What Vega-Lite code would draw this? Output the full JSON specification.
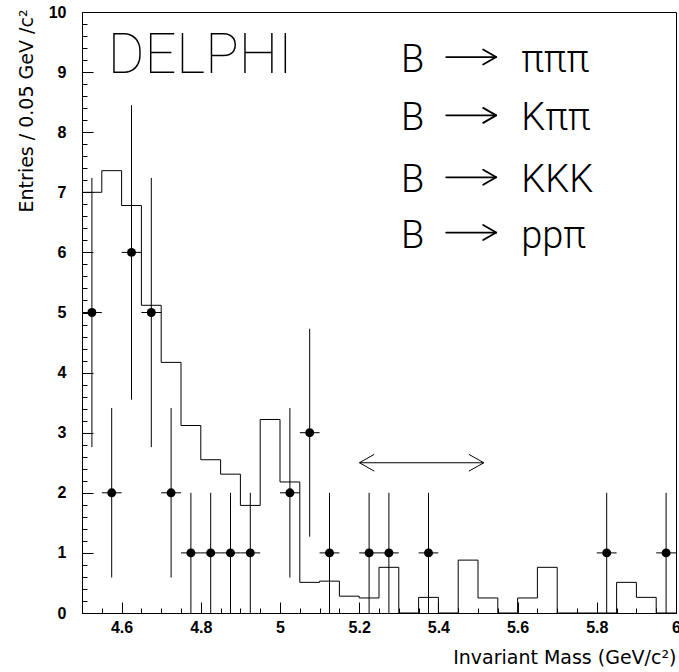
{
  "$schema": "https://vega.github.io/schema/vega-lite/v6.json",
  "width": 594,
  "height": 601,
  "autosize": {"type": "none"},
  "padding": {"left": 82, "top": 12, "right": 3, "bottom": 59},
  "background": "white",
  "config": {
    "view": {"stroke": "black", "strokeWidth": 1},
    "axis": {"grid": false, "domain": false, "tickColor": "black", "labelColor": "black", "titleColor": "black", "tickWidth": 1}
  },
  "datasets": {
    "hist": [
      {"edge": 4.50, "entries": 7.00},
      {"edge": 4.55, "entries": 7.36},
      {"edge": 4.60, "entries": 6.78},
      {"edge": 4.65, "entries": 5.12},
      {"edge": 4.70, "entries": 4.17},
      {"edge": 4.75, "entries": 3.12},
      {"edge": 4.80, "entries": 2.55},
      {"edge": 4.85, "entries": 2.31},
      {"edge": 4.90, "entries": 1.79},
      {"edge": 4.95, "entries": 3.22},
      {"edge": 5.00, "entries": 2.18},
      {"edge": 5.05, "entries": 0.51},
      {"edge": 5.10, "entries": 0.53},
      {"edge": 5.15, "entries": 0.28},
      {"edge": 5.20, "entries": 0.25},
      {"edge": 5.25, "entries": 0.76},
      {"edge": 5.30, "entries": 0},
      {"edge": 5.35, "entries": 0.26},
      {"edge": 5.40, "entries": 0},
      {"edge": 5.45, "entries": 0.88},
      {"edge": 5.50, "entries": 0.25},
      {"edge": 5.55, "entries": 0},
      {"edge": 5.60, "entries": 0.25},
      {"edge": 5.65, "entries": 0.76},
      {"edge": 5.70, "entries": 0},
      {"edge": 5.75, "entries": 0},
      {"edge": 5.80, "entries": 0},
      {"edge": 5.85, "entries": 0.51},
      {"edge": 5.90, "entries": 0.26},
      {"edge": 5.95, "entries": 0},
      {"edge": 6.00, "entries": 0}
    ],
    "points": [
      {"mass": 4.525, "lowEdge": 4.50, "highEdge": 4.55, "n": 5, "lo": 2.76, "hi": 7.24},
      {"mass": 4.575, "lowEdge": 4.55, "highEdge": 4.60, "n": 2, "lo": 0.59, "hi": 3.41},
      {"mass": 4.625, "lowEdge": 4.60, "highEdge": 4.65, "n": 6, "lo": 3.55, "hi": 8.45},
      {"mass": 4.675, "lowEdge": 4.65, "highEdge": 4.70, "n": 5, "lo": 2.76, "hi": 7.24},
      {"mass": 4.725, "lowEdge": 4.70, "highEdge": 4.75, "n": 2, "lo": 0.59, "hi": 3.41},
      {"mass": 4.775, "lowEdge": 4.75, "highEdge": 4.80, "n": 1, "lo": 0, "hi": 2},
      {"mass": 4.825, "lowEdge": 4.80, "highEdge": 4.85, "n": 1, "lo": 0, "hi": 2},
      {"mass": 4.875, "lowEdge": 4.85, "highEdge": 4.90, "n": 1, "lo": 0, "hi": 2},
      {"mass": 4.925, "lowEdge": 4.90, "highEdge": 4.95, "n": 1, "lo": 0, "hi": 2},
      {"mass": 5.025, "lowEdge": 5.00, "highEdge": 5.05, "n": 2, "lo": 0.59, "hi": 3.41},
      {"mass": 5.075, "lowEdge": 5.05, "highEdge": 5.10, "n": 3, "lo": 1.27, "hi": 4.73},
      {"mass": 5.125, "lowEdge": 5.10, "highEdge": 5.15, "n": 1, "lo": 0, "hi": 2},
      {"mass": 5.225, "lowEdge": 5.20, "highEdge": 5.25, "n": 1, "lo": 0, "hi": 2},
      {"mass": 5.275, "lowEdge": 5.25, "highEdge": 5.30, "n": 1, "lo": 0, "hi": 2},
      {"mass": 5.375, "lowEdge": 5.35, "highEdge": 5.40, "n": 1, "lo": 0, "hi": 2},
      {"mass": 5.825, "lowEdge": 5.80, "highEdge": 5.85, "n": 1, "lo": 0, "hi": 2},
      {"mass": 5.975, "lowEdge": 5.95, "highEdge": 6.00, "n": 1, "lo": 0, "hi": 2}
    ],
    "arrow": [
      {"part": "shaft", "k": 1, "mass": 5.2006, "entries": 2.5},
      {"part": "shaft", "k": 2, "mass": 5.5147, "entries": 2.5},
      {"part": "left", "k": 1, "mass": 5.238, "entries": 2.64},
      {"part": "left", "k": 2, "mass": 5.2006, "entries": 2.5},
      {"part": "left", "k": 3, "mass": 5.238, "entries": 2.36},
      {"part": "right", "k": 1, "mass": 5.4768, "entries": 2.64},
      {"part": "right", "k": 2, "mass": 5.5147, "entries": 2.5},
      {"part": "right", "k": 3, "mass": 5.4768, "entries": 2.36}
    ],
    "decayArrows": [
      {"part": "a1s", "k": 1, "mass": 5.4197, "entries": 9.25},
      {"part": "a1s", "k": 2, "mass": 5.546, "entries": 9.25},
      {"part": "a1h", "k": 1, "mass": 5.513, "entries": 9.375},
      {"part": "a1h", "k": 2, "mass": 5.546, "entries": 9.25},
      {"part": "a1h", "k": 3, "mass": 5.513, "entries": 9.125},
      {"part": "a2s", "k": 1, "mass": 5.4197, "entries": 8.28},
      {"part": "a2s", "k": 2, "mass": 5.546, "entries": 8.28},
      {"part": "a2h", "k": 1, "mass": 5.513, "entries": 8.405},
      {"part": "a2h", "k": 2, "mass": 5.546, "entries": 8.28},
      {"part": "a2h", "k": 3, "mass": 5.513, "entries": 8.155},
      {"part": "a3s", "k": 1, "mass": 5.4197, "entries": 7.25},
      {"part": "a3s", "k": 2, "mass": 5.546, "entries": 7.25},
      {"part": "a3h", "k": 1, "mass": 5.513, "entries": 7.375},
      {"part": "a3h", "k": 2, "mass": 5.546, "entries": 7.25},
      {"part": "a3h", "k": 3, "mass": 5.513, "entries": 7.125},
      {"part": "a4s", "k": 1, "mass": 5.4197, "entries": 6.33},
      {"part": "a4s", "k": 2, "mass": 5.546, "entries": 6.33},
      {"part": "a4h", "k": 1, "mass": 5.513, "entries": 6.455},
      {"part": "a4h", "k": 2, "mass": 5.546, "entries": 6.33},
      {"part": "a4h", "k": 3, "mass": 5.513, "entries": 6.205}
    ],
    "delphi": [
      {"label": "DELPHI", "mass": 4.565, "entries": 8.98}
    ],
    "decays": [
      {"product": "πππ", "entries": 9.0},
      {"product": "Kππ", "entries": 8.03},
      {"product": "KKK", "entries": 7.0},
      {"product": "ppπ", "entries": 6.08}
    ]
  },
  "resolve": {"axis": {"x": "independent", "y": "independent"}},
  "layer": [
    {
      "data": {"name": "hist"},
      "mark": {"type": "line", "interpolate": "step-after", "color": "black", "strokeWidth": 1},
      "encoding": {
        "x": {
          "field": "edge", "type": "quantitative",
          "scale": {"domain": [4.5, 6], "nice": false, "zero": false},
          "axis": {
            "orient": "bottom",
            "values": [4.6, 4.8, 5.0, 5.2, 5.4, 5.6, 5.8, 6.0],
            "format": ".1~f",
            "tickSize": -11,
            "labelPadding": 17,
            "labelFont": "Liberation Sans",
            "labelFontSize": 16,
            "labelFontWeight": "bold",
            "labelFlush": false,
            "title": "Invariant Mass (GeV/c²)",
            "titleFont": "DejaVu Sans",
            "titleFontSize": 19,
            "titleFontWeight": "normal",
            "titleX": 594,
            "titleY": 50,
            "titleAlign": "right",
            "titleBaseline": "alphabetic"
          }
        },
        "y": {
          "field": "entries", "type": "quantitative",
          "scale": {"domain": [0, 10], "nice": false, "zero": false},
          "axis": {
            "orient": "left",
            "values": [0, 1, 2, 3, 4, 5, 6, 7, 8, 9, 10],
            "format": "d",
            "tickSize": -11,
            "labelPadding": 27,
            "labelFont": "Liberation Sans",
            "labelFontSize": 16,
            "labelFontWeight": "bold",
            "labelFlush": false,
            "title": "Entries / 0.05 GeV /c²",
            "titleFont": "DejaVu Sans",
            "titleFontSize": 19,
            "titleFontWeight": "normal",
            "titleAngle": 270,
            "titleX": -50,
            "titleY": -3,
            "titleAlign": "right",
            "titleBaseline": "alphabetic"
          }
        }
      }
    },
    {
      "data": {"name": "points"},
      "mark": {"type": "rule", "color": "black", "strokeWidth": 1},
      "encoding": {
        "x": {
          "field": "mass", "type": "quantitative",
          "scale": {"domain": [4.5, 6], "nice": false, "zero": false},
          "axis": {
            "orient": "bottom",
            "values": [4.5, 4.55, 4.6, 4.65, 4.7, 4.75, 4.8, 4.85, 4.9, 4.95, 5.0, 5.05, 5.1, 5.15, 5.2, 5.25, 5.3, 5.35, 5.4, 5.45, 5.5, 5.55, 5.6, 5.65, 5.7, 5.75, 5.8, 5.85, 5.9, 5.95, 6.0],
            "tickSize": -5,
            "labels": false,
            "title": null
          }
        },
        "y": {
          "field": "lo", "type": "quantitative",
          "scale": {"domain": [0, 10], "nice": false, "zero": false},
          "axis": {
            "orient": "left",
            "values": [0, 0.2, 0.4, 0.6, 0.8, 1, 1.2, 1.4, 1.6, 1.8, 2, 2.2, 2.4, 2.6, 2.8, 3, 3.2, 3.4, 3.6, 3.8, 4, 4.2, 4.4, 4.6, 4.8, 5, 5.2, 5.4, 5.6, 5.8, 6, 6.2, 6.4, 6.6, 6.8, 7, 7.2, 7.4, 7.6, 7.8, 8, 8.2, 8.4, 8.6, 8.8, 9, 9.2, 9.4, 9.6, 9.8, 10],
            "tickSize": -5,
            "labels": false,
            "title": null
          }
        },
        "y2": {"field": "hi"}
      }
    },
    {
      "data": {"name": "points"},
      "mark": {"type": "rule", "color": "black", "strokeWidth": 1},
      "encoding": {
        "x": {"field": "lowEdge", "type": "quantitative", "scale": {"domain": [4.5, 6], "nice": false, "zero": false}, "axis": null},
        "x2": {"field": "highEdge"},
        "y": {"field": "n", "type": "quantitative", "scale": {"domain": [0, 10], "nice": false, "zero": false}, "axis": null}
      }
    },
    {
      "data": {"name": "points"},
      "mark": {"type": "circle", "color": "black", "opacity": 1, "size": 80},
      "encoding": {
        "x": {"field": "mass", "type": "quantitative", "scale": {"domain": [4.5, 6], "nice": false, "zero": false}, "axis": null},
        "y": {"field": "n", "type": "quantitative", "scale": {"domain": [0, 10], "nice": false, "zero": false}, "axis": null}
      }
    },
    {
      "data": {"name": "arrow"},
      "mark": {"type": "line", "color": "black", "strokeWidth": 1},
      "encoding": {
        "x": {"field": "mass", "type": "quantitative", "scale": {"domain": [4.5, 6], "nice": false, "zero": false}, "axis": null},
        "y": {"field": "entries", "type": "quantitative", "scale": {"domain": [0, 10], "nice": false, "zero": false}, "axis": null},
        "detail": {"field": "part"},
        "order": {"field": "k"}
      }
    },
    {
      "data": {"name": "decayArrows"},
      "mark": {"type": "line", "color": "black", "strokeWidth": 1.8, "strokeCap": "round", "strokeJoin": "round"},
      "encoding": {
        "x": {"field": "mass", "type": "quantitative", "scale": {"domain": [4.5, 6], "nice": false, "zero": false}, "axis": null},
        "y": {"field": "entries", "type": "quantitative", "scale": {"domain": [0, 10], "nice": false, "zero": false}, "axis": null},
        "detail": {"field": "part"},
        "order": {"field": "k"}
      }
    },
    {
      "data": {"name": "delphi"},
      "mark": {"type": "text", "font": "Roboto", "fontWeight": 100, "fontSize": 56, "align": "left", "baseline": "alphabetic", "color": "black"},
      "encoding": {
        "x": {"field": "mass", "type": "quantitative", "scale": {"domain": [4.5, 6], "nice": false, "zero": false}, "axis": null},
        "y": {"field": "entries", "type": "quantitative", "scale": {"domain": [0, 10], "nice": false, "zero": false}, "axis": null},
        "text": {"field": "label"}
      }
    },
    {
      "data": {"name": "decays"},
      "mark": {"type": "text", "font": "Roboto", "fontWeight": 300, "fontSize": 38, "align": "left", "baseline": "alphabetic", "color": "black"},
      "encoding": {
        "x": {"datum": 5.3058, "type": "quantitative", "scale": {"domain": [4.5, 6], "nice": false, "zero": false}, "axis": null},
        "y": {"field": "entries", "type": "quantitative", "scale": {"domain": [0, 10], "nice": false, "zero": false}, "axis": null},
        "text": {"value": "B"}
      }
    },
    {
      "data": {"name": "decays"},
      "mark": {"type": "text", "font": "Roboto", "fontWeight": 300, "fontSize": 38, "align": "left", "baseline": "alphabetic", "color": "black"},
      "encoding": {
        "x": {"datum": 5.609, "type": "quantitative", "scale": {"domain": [4.5, 6], "nice": false, "zero": false}, "axis": null},
        "y": {"field": "entries", "type": "quantitative", "scale": {"domain": [0, 10], "nice": false, "zero": false}, "axis": null},
        "text": {"field": "product"}
      }
    }
  ]
}
